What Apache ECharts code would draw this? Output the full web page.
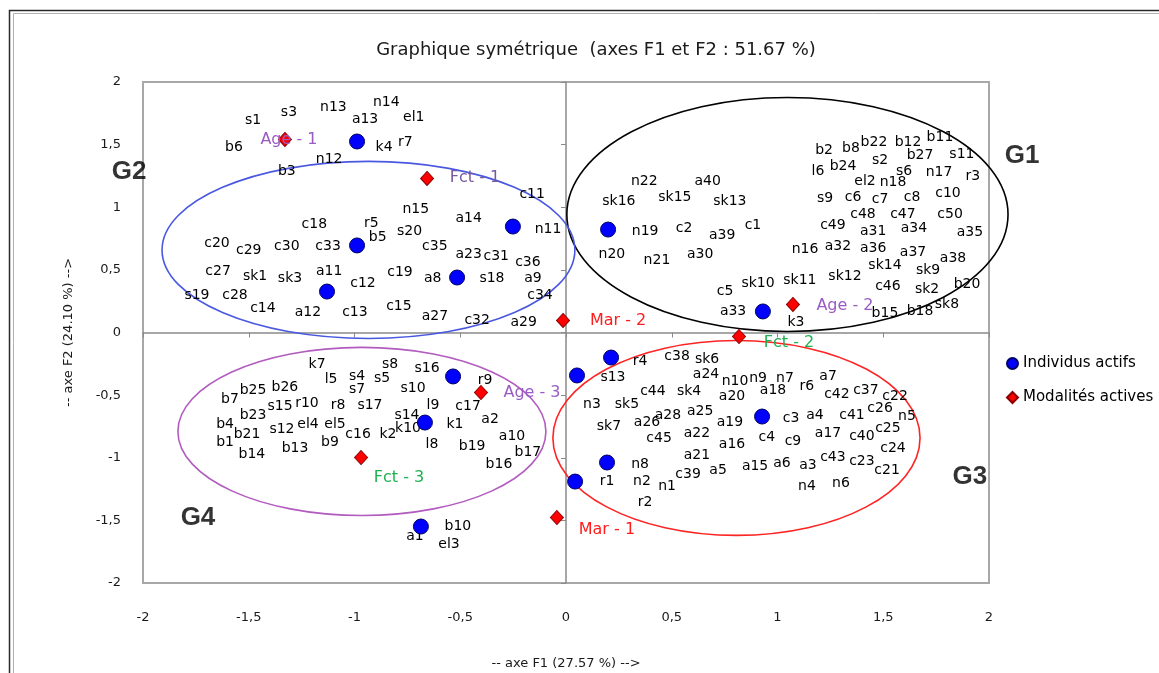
<!DOCTYPE html>
<html>
<head>
<meta charset="utf-8">
<script src="https://cdn.jsdelivr.net/npm/echarts@6/dist/echarts.min.js"></script>
<style>
  html, body { margin: 0; padding: 0; background: #ffffff; }
  #chart { width: 1159px; height: 673px; }
</style>
</head>
<body>
<div id="chart"></div>
<script>
// ---- texts ----
const chartTitle = 'Graphique symétrique  (axes F1 et F2 : 51.67 %)';
const axisF1Name = '-- axe F1 (27.57 %) -->';
const axisF2Name = '-- axe F2 (24.10 %) -->';
const legendNames = ['Individus actifs', 'Modalités actives'];

// ---- axis range ----
const axisMin = -2;
const axisMax = 2;
const tickStep = 0.5;

// ---- individuals: [label, F1, F2] ----
const upperLeftLabels = [
  ['s1', -1.48, 1.69], ['s3', -1.31, 1.76], ['n13', -1.10, 1.80], ['n14', -0.85, 1.84],
  ['el1', -0.72, 1.72], ['a13', -0.95, 1.70], ['b6', -1.57, 1.48], ['k4', -0.86, 1.48],
  ['r7', -0.76, 1.52], ['n12', -1.12, 1.38], ['b3', -1.32, 1.29]
];
const g2Labels = [
  ['n15', -0.71, 0.98], ['a14', -0.46, 0.91], ['c11', -0.16, 1.10], ['n11', -0.085, 0.82],
  ['c18', -1.19, 0.86], ['r5', -0.92, 0.87], ['s20', -0.74, 0.81], ['b5', -0.89, 0.76],
  ['c20', -1.65, 0.71], ['c29', -1.50, 0.655], ['c30', -1.32, 0.69], ['c33', -1.125, 0.69],
  ['c35', -0.62, 0.69], ['a23', -0.46, 0.62], ['c31', -0.33, 0.61], ['c36', -0.18, 0.56],
  ['c27', -1.645, 0.49], ['sk1', -1.47, 0.45], ['sk3', -1.305, 0.43], ['a11', -1.12, 0.49],
  ['c12', -0.96, 0.39], ['c19', -0.785, 0.48], ['a8', -0.63, 0.43], ['s18', -0.35, 0.43],
  ['a9', -0.156, 0.43], ['s19', -1.745, 0.30], ['c28', -1.565, 0.30], ['c34', -0.123, 0.30],
  ['c14', -1.433, 0.19], ['a12', -1.22, 0.16], ['c13', -0.998, 0.16], ['c15', -0.79, 0.21],
  ['a27', -0.62, 0.13], ['c32', -0.42, 0.096], ['a29', -0.20, 0.08]
];
const g1Labels = [
  ['n22', 0.37, 1.21], ['a40', 0.67, 1.21], ['sk16', 0.25, 1.05], ['sk15', 0.515, 1.08],
  ['sk13', 0.775, 1.05], ['c1', 0.884, 0.854], ['n19', 0.374, 0.806], ['c2', 0.558, 0.83],
  ['a39', 0.738, 0.774], ['n20', 0.217, 0.623], ['n21', 0.43, 0.575], ['a30', 0.634, 0.623],
  ['b2', 1.22, 1.453], ['b8', 1.347, 1.469], ['b22', 1.456, 1.517], ['b12', 1.617, 1.517],
  ['b11', 1.768, 1.557], ['s2', 1.485, 1.373], ['b27', 1.674, 1.413], ['s11', 1.872, 1.421],
  ['l6', 1.191, 1.285], ['b24', 1.31, 1.325], ['s6', 1.598, 1.285], ['n17', 1.764, 1.277],
  ['r3', 1.924, 1.246], ['el2', 1.414, 1.206], ['n18', 1.546, 1.198], ['s9', 1.225, 1.07],
  ['c6', 1.357, 1.078], ['c7', 1.485, 1.062], ['c8', 1.636, 1.078], ['c10', 1.806, 1.11],
  ['c48', 1.404, 0.942], ['c47', 1.593, 0.942], ['c50', 1.816, 0.942], ['c49', 1.262, 0.854],
  ['a31', 1.452, 0.806], ['a34', 1.645, 0.83], ['a35', 1.91, 0.798], ['n16', 1.13, 0.663],
  ['a32', 1.286, 0.687], ['a36', 1.452, 0.671], ['a37', 1.641, 0.639], ['a38', 1.83, 0.591],
  ['sk14', 1.508, 0.535], ['sk9', 1.712, 0.495], ['sk12', 1.319, 0.447], ['sk11', 1.106, 0.415],
  ['sk10', 0.908, 0.391], ['c5', 0.752, 0.327], ['c46', 1.522, 0.367], ['sk2', 1.707, 0.343],
  ['b20', 1.896, 0.383], ['a33', 0.79, 0.168], ['k3', 1.087, 0.08], ['b15', 1.508, 0.152],
  ['b18', 1.674, 0.168], ['sk8', 1.801, 0.224]
];
const g4Labels = [
  ['k7', -1.177, -0.255], ['s8', -0.832, -0.255], ['s16', -0.657, -0.287], ['l5', -1.111, -0.375],
  ['s4', -0.988, -0.351], ['s5', -0.87, -0.367], ['s7', -0.988, -0.455], ['s10', -0.723, -0.447],
  ['b25', -1.48, -0.463], ['b26', -1.329, -0.439], ['b7', -1.589, -0.535], ['s15', -1.352, -0.591],
  ['r10', -1.225, -0.567], ['r8', -1.078, -0.583], ['s17', -0.927, -0.583], ['l9', -0.629, -0.583],
  ['c17', -0.463, -0.591], ['r9', -0.383, -0.383], ['b23', -1.48, -0.663], ['s14', -0.752, -0.663],
  ['k10', -0.747, -0.766], ['b4', -1.612, -0.735], ['s12', -1.343, -0.774], ['el4', -1.22, -0.735],
  ['el5', -1.092, -0.735], ['b21', -1.508, -0.814], ['c16', -0.983, -0.814], ['k2', -0.842, -0.814],
  ['k1', -0.525, -0.735], ['a2', -0.359, -0.695], ['b1', -1.612, -0.878], ['b9', -1.116, -0.878],
  ['l8', -0.634, -0.894], ['b19', -0.444, -0.91], ['a10', -0.255, -0.83], ['b13', -1.281, -0.926],
  ['b14', -1.485, -0.974], ['b17', -0.18, -0.958], ['b16', -0.317, -1.054]
];
const lowerLeftLabels = [
  ['b10', -0.511, -1.549], ['a1', -0.714, -1.629], ['el3', -0.553, -1.693]
];
const g3Labels = [
  ['s13', 0.222, -0.359], ['r4', 0.35, -0.232], ['c38', 0.525, -0.192], ['sk6', 0.667, -0.216],
  ['a24', 0.662, -0.335], ['c44', 0.411, -0.471], ['sk4', 0.582, -0.471], ['n3', 0.123, -0.575],
  ['sk5', 0.288, -0.575], ['n10', 0.799, -0.391], ['n9', 0.908, -0.367], ['n7', 1.035, -0.367],
  ['a7', 1.239, -0.351], ['r6', 1.139, -0.431], ['a18', 0.979, -0.463], ['a20', 0.785, -0.511],
  ['c42', 1.281, -0.495], ['c37', 1.418, -0.463], ['c22', 1.556, -0.511], ['sk7', 0.203, -0.751],
  ['a26', 0.383, -0.719], ['a28', 0.482, -0.663], ['a25', 0.634, -0.631], ['c45', 0.44, -0.846],
  ['a22', 0.619, -0.806], ['a19', 0.775, -0.719], ['c3', 1.064, -0.687], ['a4', 1.177, -0.663],
  ['c41', 1.352, -0.663], ['c26', 1.485, -0.607], ['n5', 1.612, -0.671], ['c4', 0.95, -0.838],
  ['c9', 1.073, -0.87], ['a17', 1.239, -0.806], ['c40', 1.399, -0.83], ['c25', 1.522, -0.766],
  ['a16', 0.785, -0.894], ['c24', 1.546, -0.926], ['a21', 0.619, -0.982], ['a15', 0.894, -1.07],
  ['a6', 1.021, -1.046], ['a3', 1.144, -1.062], ['c43', 1.262, -0.998], ['c23', 1.399, -1.03],
  ['c21', 1.518, -1.102], ['a5', 0.719, -1.102], ['n8', 0.35, -1.054], ['n2', 0.359, -1.19],
  ['n1', 0.478, -1.23], ['c39', 0.577, -1.134], ['r1', 0.194, -1.19], ['r2', 0.374, -1.357],
  ['n4', 1.139, -1.23], ['n6', 1.30, -1.206]
];

// ---- individuals drawn with a marker ----
const activeDotF1 = [-0.988, -0.988, -1.130, -0.251, 0.199, -0.515, 0.931, 0.213, 0.052, -0.534, -0.667, 0.927, 0.194, 0.043, -0.686];
const activeDotF2 = [1.525, 0.695, 0.327, 0.846, 0.822, 0.439, 0.168, -0.200, -0.343, -0.351, -0.719, -0.671, -1.038, -1.190, -1.549];

// ---- active modalities ----
const modalityNames = ['Age - 1', 'Fct - 1', 'Mar - 2', 'Age - 2', 'Fct - 2', 'Age - 3', 'Fct - 3', 'Mar - 1'];
const modalityF1 = [-1.329, -0.657, -0.014, 1.073, 0.818, -0.402, -0.969, -0.043];
const modalityF2 = [1.541, 1.230, 0.096, 0.224, -0.032, -0.479, -0.998, -1.477];

// ---- groups (ellipse centre / half-axes, label anchor) ----
const groupNames = ['G1', 'G2', 'G3', 'G4'];
const groupCenterF1 = [1.047, -0.934, 0.806, -0.965];
const groupCenterF2 = [0.942, 0.659, -0.842, -0.790];
const groupRadiusF1 = [1.043, 0.976, 0.868, 0.870];
const groupRadiusF2 = [0.934, 0.707, 0.778, 0.671];
const groupLabelF1 = [2.156, -2.066, 1.91, -1.74];
const groupLabelF2 = [1.413, 1.285, -1.15, -1.477];

// ---- styling ----
const FONT = 'DejaVu Sans';
const groupColors = ['#000000', '#4a58e0', '#ff2424', '#b25cbf'];
const modalityStyle = {
  'Age - 1': { color: '#9a5cc4', offset: [4, 0] },
  'Fct - 1': { color: '#76589e', offset: [48, -1] },
  'Mar - 2': { color: '#ff1c1c', offset: [55, 0] },
  'Age - 2': { color: '#9a5cc4', offset: [52, 1] },
  'Fct - 2': { color: '#1fb050', offset: [50, 6] },
  'Age - 3': { color: '#9a5cc4', offset: [51, 0] },
  'Fct - 3': { color: '#1fb050', offset: [38, 20] },
  'Mar - 1': { color: '#ff1c1c', offset: [50, 12] }
};

const allLabels = [].concat(upperLeftLabels, g2Labels, g1Labels, g4Labels, lowerLeftLabels, g3Labels);
const tickText = v => String(v).replace('.', ',');

const chart = echarts.init(document.getElementById('chart'), null, { renderer: 'canvas' });

const valueAxisBase = { type: 'value', min: axisMin, max: axisMax, interval: tickStep, splitLine: { show: false } };

chart.setOption({
  animation: false,
  backgroundColor: '#ffffff',
  grid: {
    left: 143, right: 170, top: 82, bottom: 90,
    show: true, borderColor: '#a8a8a8', borderWidth: 2,
    outerBoundsMode: 'none'
  },
  xAxis: [
    Object.assign({}, valueAxisBase, {
      position: 'bottom',
      axisLine: { show: false, onZero: false },
      axisTick: { show: false },
      axisLabel: { margin: 28, fontSize: 13, fontFamily: FONT, color: '#1a1a1a', formatter: tickText },
      name: axisF1Name, nameLocation: 'middle', nameGap: 74,
      nameTextStyle: { fontSize: 13, fontFamily: FONT, color: '#1a1a1a' }
    }),
    Object.assign({}, valueAxisBase, {
      position: 'top',
      axisLine: { show: true, onZero: true, onZeroAxisIndex: 0, lineStyle: { color: '#8a8a8a', width: 1.5 } },
      axisTick: { show: true, inside: true, length: 5, lineStyle: { color: '#8a8a8a', width: 1 } },
      axisLabel: { show: false }
    })
  ],
  yAxis: [
    Object.assign({}, valueAxisBase, {
      position: 'left',
      axisLine: { show: false, onZero: false },
      axisTick: { show: false },
      axisLabel: { margin: 22, fontSize: 13, fontFamily: FONT, color: '#1a1a1a', formatter: tickText },
      name: axisF2Name, nameLocation: 'middle', nameGap: 68,
      nameTextStyle: { fontSize: 13, fontFamily: FONT, color: '#1a1a1a' }
    }),
    Object.assign({}, valueAxisBase, {
      position: 'right',
      axisLine: { show: true, onZero: true, onZeroAxisIndex: 0, lineStyle: { color: '#8a8a8a', width: 1.5 } },
      axisTick: { show: true, inside: true, length: 5, lineStyle: { color: '#8a8a8a', width: 1 } },
      axisLabel: { show: false }
    })
  ],
  legend: {
    data: legendNames,
    orient: 'vertical',
    left: 1001, top: 351,
    itemWidth: 11, itemHeight: 11, itemGap: 19,
    selectedMode: false,
    textStyle: { fontSize: 15, fontFamily: FONT, color: '#000' }
  },
  graphic: [
    { type: 'rect', silent: true, shape: { x: 9.5, y: 10.5, width: 1200, height: 700 },
      style: { fill: 'none', stroke: '#2a2a2a', lineWidth: 1.5 } },
    { type: 'rect', silent: true, shape: { x: 13.5, y: 13.5, width: 1200, height: 700 },
      style: { fill: 'none', stroke: '#b0b0b0', lineWidth: 1 } },
    { type: 'text', silent: true, x: 596, y: 50,
      style: { text: chartTitle, textAlign: 'center', textVerticalAlign: 'middle',
               font: '18px "DejaVu Sans"', fill: '#1a1a1a' } }
  ],
  series: [
    {
      type: 'custom',
      name: 'groups',
      silent: true,
      clip: false,
      xAxisIndex: 0, yAxisIndex: 0,
      data: groupNames.map((g, i) => [groupCenterF1[i], groupCenterF2[i], groupRadiusF1[i], groupRadiusF2[i]]),
      encode: { x: 0, y: 1 },
      renderItem: (params, api) => {
        const c = api.coord([api.value(0), api.value(1)]);
        const s = api.size([api.value(2), api.value(3)]);
        return {
          type: 'ellipse',
          shape: { cx: c[0], cy: c[1], rx: s[0], ry: s[1] },
          style: { fill: 'none', stroke: groupColors[params.dataIndex], lineWidth: 1.6 }
        };
      },
      z: 1
    },
    {
      // individual names, centred on their coordinates
      type: 'custom',
      name: 'labels',
      silent: true,
      xAxisIndex: 0, yAxisIndex: 0,
      data: allLabels.map(r => [r[1], r[2]]),
      encode: { x: 0, y: 1 },
      renderItem: (params, api) => {
        const c = api.coord([api.value(0), api.value(1)]);
        return {
          type: 'text',
          x: c[0], y: c[1],
          style: {
            text: allLabels[params.dataIndex][0],
            textAlign: 'center', textVerticalAlign: 'middle',
            font: '14px "DejaVu Sans"', fill: '#000'
          }
        };
      },
      z: 3
    },
    {
      type: 'scatter',
      name: legendNames[0],
      silent: true,
      symbol: 'circle',
      symbolSize: 15,
      itemStyle: { color: '#0000ff', borderColor: '#000060', borderWidth: 1, opacity: 1 },
      data: activeDotF1.map((x, i) => [x, activeDotF2[i]]),
      z: 4
    },
    {
      type: 'scatter',
      name: legendNames[1],
      silent: true,
      symbol: 'diamond',
      symbolSize: [13, 14],
      itemStyle: { color: '#ff0000', borderColor: '#8a0000', borderWidth: 1, opacity: 1 },
      data: modalityNames.map((n, i) => ({
        name: n,
        value: [modalityF1[i], modalityF2[i]],
        label: { color: modalityStyle[n].color, offset: modalityStyle[n].offset }
      })),
      label: { show: true, position: 'inside', formatter: '{b}', fontSize: 16, fontFamily: FONT },
      z: 5
    },
    {
      type: 'scatter',
      name: 'groupNames',
      silent: true,
      clip: false,
      symbol: 'circle',
      symbolSize: 1,
      itemStyle: { color: 'rgba(0,0,0,0)' },
      data: groupNames.map((g, i) => ({ name: g, value: [groupLabelF1[i], groupLabelF2[i]] })),
      label: {
        show: true, position: 'inside', formatter: '{b}',
        fontSize: 26, fontWeight: 'bold', fontFamily: 'Liberation Sans', color: '#000'
      },
      z: 6
    }
  ]
});
</script>
</body>
</html>
